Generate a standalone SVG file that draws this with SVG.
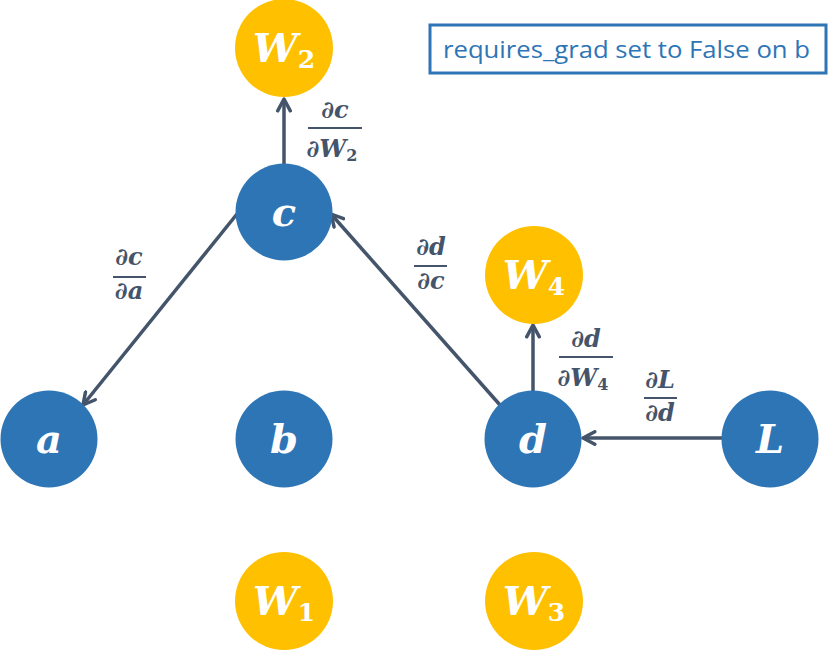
<svg xmlns="http://www.w3.org/2000/svg" width="829" height="651" viewBox="0 0 829 651">
<style>
.blue{fill:#2E75B6}
.gold{fill:#FFC000}
.lbl{fill:#fff;font-family:"DejaVu Serif","Liberation Serif",serif;font-weight:bold;font-style:italic;font-size:40px;text-anchor:middle}
.sub{font-size:25px;font-style:normal}
.edge{stroke:#44546A;stroke-width:3.5;fill:none}
.fr{fill:#44546A;font-family:"DejaVu Serif","Liberation Serif",serif;font-weight:bold;font-style:italic;font-size:24px;text-anchor:middle}
.frs{font-size:16px;font-style:normal}
.bar{stroke:#44546A;stroke-width:2}
</style>
<defs>
<marker id="ah" viewBox="0 0 10 10" refX="9" refY="5" markerWidth="4.5" markerHeight="4.5" orient="auto" markerUnits="strokeWidth">
<polyline points="1.5,1 9,5 1.5,9" fill="none" stroke="#44546A" stroke-width="2.2" stroke-linecap="round" stroke-linejoin="round"/>
</marker>
</defs>
<rect width="829" height="651" fill="#fff"/>
<g id="edges">
<line class="edge" x1="284" y1="164" x2="284" y2="99" marker-end="url(#ah)"/>
<line class="edge" x1="237" y1="214" x2="83" y2="405" marker-end="url(#ah)"/>
<line class="edge" x1="500" y1="405" x2="331" y2="214" marker-end="url(#ah)"/>
<line class="edge" x1="533" y1="392" x2="533" y2="325" marker-end="url(#ah)"/>
<line class="edge" x1="722" y1="438" x2="583" y2="438" marker-end="url(#ah)"/>
<g id="lbl-cW2"><text class="fr" x="335" y="118">∂c</text><line class="bar" x1="308" y1="128" x2="362" y2="128"/><text class="fr" x="332" y="157">∂W<tspan class="frs" dy="4">2</tspan></text></g>
<g id="lbl-ca"><text class="fr" x="129" y="265">∂c</text><line class="bar" x1="113" y1="277" x2="146" y2="277"/><text class="fr" x="129" y="299">∂a</text></g>
<g id="lbl-dc"><text class="fr" x="431" y="255">∂d</text><line class="bar" x1="414" y1="266" x2="447" y2="266"/><text class="fr" x="431" y="289">∂c</text></g>
<g id="lbl-dW4"><text class="fr" x="586" y="347">∂d</text><line class="bar" x1="559" y1="357" x2="613" y2="357"/><text class="fr" x="583" y="386">∂W<tspan class="frs" dy="4">4</tspan></text></g>
<g id="lbl-Ld"><text class="fr" x="660" y="388">∂L</text><line class="bar" x1="644" y1="398" x2="677" y2="398"/><text class="fr" x="660" y="421">∂d</text></g>
</g>
<g id="W2"><circle class="gold" cx="284" cy="48" r="49"/><text class="lbl" x="284" y="62">W<tspan class="sub" dy="6">2</tspan></text></g>
<g id="c"><circle class="blue" cx="284" cy="212" r="48.5"/><text class="lbl" x="284" y="226">c</text></g>
<g id="W4"><circle class="gold" cx="534" cy="275" r="49"/><text class="lbl" x="534" y="289">W<tspan class="sub" dy="6">4</tspan></text></g>
<g id="a"><circle class="blue" cx="49" cy="439" r="48.5"/><text class="lbl" x="49" y="453">a</text></g>
<g id="b"><circle class="blue" cx="284" cy="439" r="48.5"/><text class="lbl" x="284" y="453">b</text></g>
<g id="d"><circle class="blue" cx="533" cy="439" r="48.5"/><text class="lbl" x="533" y="453">d</text></g>
<g id="L"><circle class="blue" cx="770" cy="439" r="48.5"/><text class="lbl" x="770" y="453">L</text></g>
<g id="W1"><circle class="gold" cx="284" cy="601" r="49"/><text class="lbl" x="284" y="615">W<tspan class="sub" dy="6">1</tspan></text></g>
<g id="W3"><circle class="gold" cx="534" cy="601" r="49"/><text class="lbl" x="534" y="615">W<tspan class="sub" dy="6">3</tspan></text></g>
<g id="note"><rect x="430" y="25" width="396" height="48" fill="#fff" stroke="#2E75B6" stroke-width="3"/><text x="443" y="58" fill="#2E75B6" font-family="'Open Sans','Liberation Sans',sans-serif" font-size="24" textLength="367" lengthAdjust="spacingAndGlyphs">requires_grad set to False on b</text></g>
</svg>
